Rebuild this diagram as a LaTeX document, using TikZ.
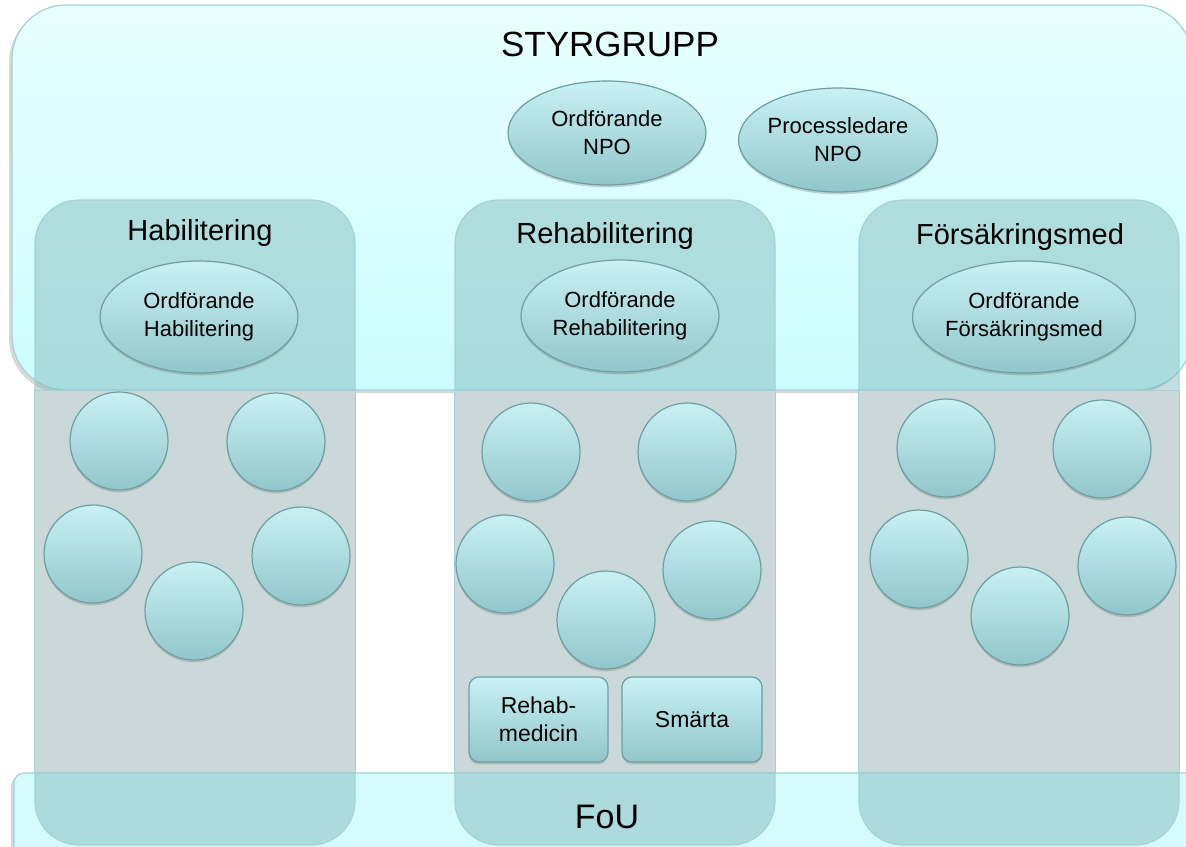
\documentclass[tikz,border=0pt]{standalone}
\usepackage{fontspec}
\setmainfont{Liberation Sans}
\usepackage{tikz}
\usetikzlibrary{shapes.geometric}
\usetikzlibrary{shadows}
\definecolor{styrtop}{HTML}{E8FFFF}
\definecolor{styrbot}{HTML}{CCFDFE}
\definecolor{edge}{HTML}{A3D2D5}
\definecolor{colteal}{HTML}{7FB5B8}
\definecolor{colgrey}{HTML}{CBD8DA}
\definecolor{foufill}{HTML}{D4FCFD}
\definecolor{knobtop}{HTML}{C8F1F4}
\definecolor{knobbot}{HTML}{92C6CA}
\definecolor{knobedge}{HTML}{6E9EA2}
\tikzstyle{band}=[rectangle,draw=edge,inner sep=0mm,drop shadow={shadow xshift=-1.5pt,shadow yshift=-1.5pt,opacity=.3}]
\tikzstyle{column}=[rectangle,draw=edge,fill=colteal,fill opacity=.45,rounded corners=22pt,minimum width=160pt,minimum height=322.5pt,inner sep=0mm]
\tikzstyle{strip}=[draw=edge,fill=colgrey]
\tikzstyle{knob}=[draw=knobedge,top color=knobtop,bottom color=knobbot,inner sep=0mm,drop shadow={shadow xshift=0pt,shadow yshift=-1.2pt,opacity=.35}]
\tikzstyle{chair}=[knob,ellipse,minimum width=99pt,minimum height=56pt,align=center,font=\fontsize{11}{14}\selectfont]
\tikzstyle{member}=[knob,circle,minimum size=49pt]
\tikzstyle{unit}=[knob,rectangle,rounded corners=5pt,minimum width=69.5pt,minimum height=42.5pt,align=center,font=\fontsize{11.5}{14}\selectfont]
\tikzstyle{title}=[anchor=base,inner sep=0mm,font=\fontsize{14.5}{17}\selectfont]
\tikzset{every picture/.style={
    line width=0.6
  }
}

\begin{document}
\begin{tikzpicture}[x=0.5pt,y=-0.5pt]
        \useasboundingbox (0,0) rectangle (1186,846);
        \clip (0,0) rectangle (1186,846);
        % bands
        \node[band,top color=styrtop,bottom color=styrbot,rounded corners=27pt,minimum width=590pt,minimum height=192.5pt] at (602,197.5) (styr) {};
        \node[band,fill=foufill,rounded corners=5pt,minimum width=600pt,minimum height=50pt] at (614,823) (fou) {};
        \node[anchor=base,inner sep=0mm,font=\fontsize{17.5}{20}\selectfont] at (610,56) (styrtitle) {STYRGRUPP};
        % columns
        \node[column] at (195,522.5) (hab) {};
        \node[column] at (615,522.5) (reh) {};
        \node[column] at (1019,522.5) (fors) {};
        \filldraw[strip] (hab.west |- styr.south) rectangle (hab.east |- fou.north);
        \filldraw[strip] (reh.west |- styr.south) rectangle (reh.east |- fou.north);
        \filldraw[strip] (fors.west |- styr.south) rectangle (fors.east |- fou.north);
        \node[anchor=base,inner sep=0mm,font=\fontsize{17}{20}\selectfont] at (607,828) (foutitle) {FoU};
        \node[title] at (200,240) (habtitle) {Habilitering};
        \node[title] at (605,243) (rehtitle) {Rehabilitering};
        \node[title] at (1020,244) (forstitle) {Försäkringsmed};
        % chairs
        \node[chair,minimum height=52pt] at (607,133) (npo) {Ordförande\\NPO};
        \node[chair,minimum height=52pt] at (838,140) (proc) {Processledare\\NPO};
        \node[chair] at (199,317) (habchair) {Ordförande\\Habilitering};
        \node[chair] at (620,316) (rehchair) {Ordförande\\Rehabilitering};
        \node[chair] at (1024,317) (forschair) {Ordförande\\Försäkringsmed};
        % members
        \node[member] at (119,441) (hab1) {};
        \node[member] at (276,442) (hab2) {};
        \node[member] at (93,554) (hab3) {};
        \node[member] at (301,556) (hab4) {};
        \node[member] at (194,611) (hab5) {};
        \node[member] at (531,452) (reh1) {};
        \node[member] at (687,452) (reh2) {};
        \node[member] at (505,564) (reh3) {};
        \node[member] at (712,570) (reh4) {};
        \node[member] at (606,620) (reh5) {};
        \node[member] at (946,448) (fors1) {};
        \node[member] at (1102,449) (fors2) {};
        \node[member] at (919,559) (fors3) {};
        \node[member] at (1127,566) (fors4) {};
        \node[member] at (1020,616) (fors5) {};
        % units
        \node[unit] at (538.5,719.5) (rehabmed) {Rehab-\\medicin};
        \node[unit,minimum width=70pt] at (692,719.5) (smarta) {Smärta};
      \end{tikzpicture}
\end{document}
